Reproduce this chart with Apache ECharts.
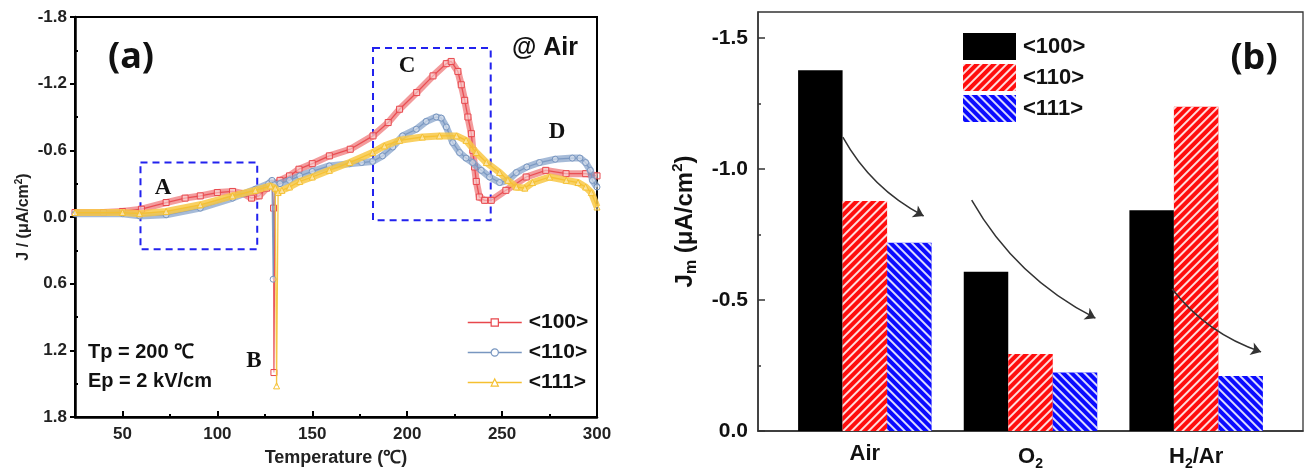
<!DOCTYPE html>
<html><head><meta charset="utf-8">
<script src="https://cdn.jsdelivr.net/npm/echarts@6/dist/echarts.min.js"></script>
<style>html,body{margin:0;padding:0;background:#fff}#c{width:1306px;height:472px}</style>
</head><body><div id="c"></div>
<script>
// ---------- Panel (a) data: [temperature (°C), J (uA/cm2)] ----------
const lineNames = ['<100>', '<110>', '<111>'];
const j100 = [[25,-0.04],[40,-0.04],[50,-0.05],[60,-0.07],[73,-0.13],[83,-0.17],[91,-0.19],[100,-0.22],[108,-0.23],[114,-0.21],[118,-0.17],[122,-0.19],[126,-0.26],[128.8,-0.30],[129.6,-0.08],[129.8,1.40],[130.4,-0.30],[133,-0.33],[138,-0.37],[143,-0.43],[150,-0.48],[159,-0.55],[170,-0.61],[182,-0.73],[190,-0.85],[196,-0.97],[205,-1.12],[213.6,-1.27],[220.6,-1.38],[223.2,-1.40],[226.7,-1.31],[228.5,-1.19],[230.3,-1.05],[232,-0.90],[233.8,-0.75],[234.6,-0.60],[235.5,-0.45],[236.4,-0.32],[238,-0.18],[240.8,-0.15],[244.3,-0.15],[252,-0.24],[262.7,-0.36],[273,-0.42],[283.7,-0.39],[294,-0.39],[300,-0.37]];
const j110 = [[25,-0.03],[50,-0.03],[59,-0.01],[73,-0.02],[91,-0.08],[108,-0.17],[120,-0.25],[127,-0.30],[128.8,-0.33],[129.4,0.56],[130,-0.29],[133,-0.30],[138,-0.33],[143.4,-0.37],[150,-0.41],[159,-0.46],[169.7,-0.48],[176,-0.49],[181.8,-0.50],[187,-0.55],[192.4,-0.63],[197.6,-0.73],[204.8,-0.79],[210,-0.86],[215.3,-0.90],[218,-0.89],[220.6,-0.81],[224,-0.67],[227.6,-0.58],[231,-0.53],[234.5,-0.49],[239,-0.42],[243.4,-0.36],[248.7,-0.31],[253,-0.33],[257.5,-0.40],[263,-0.45],[269.7,-0.49],[278,-0.52],[287,-0.53],[291,-0.53],[294,-0.49],[296.5,-0.42],[297.6,-0.33],[300,-0.27]];
const j111 = [[25,-0.04],[50,-0.04],[59,-0.03],[73,-0.05],[91,-0.11],[108,-0.19],[120,-0.24],[128,-0.28],[130.5,-0.26],[131.2,1.52],[132,-0.22],[134,-0.24],[138,-0.27],[143.4,-0.32],[150,-0.36],[159,-0.42],[169.7,-0.49],[181.8,-0.58],[188,-0.64],[196,-0.69],[208,-0.72],[217,-0.73],[226,-0.73],[231,-0.69],[236.4,-0.58],[241.7,-0.49],[248.7,-0.40],[253,-0.33],[257.5,-0.27],[262,-0.26],[266,-0.31],[275,-0.36],[283.8,-0.33],[290,-0.31],[294,-0.27],[297,-0.22],[300,-0.09]];
const tempTicks = [50, 100, 150, 200, 250, 300];
const tempMinorTicks = [75, 125, 175, 225, 275];
const jMinorTicks = [-1.5, -0.9, -0.3, 0.3, 0.9, 1.5];
// dashed boxes A and C: [[tempStart, jTop], [tempEnd, jBottom]]
const boxes = [[[59.5, -0.49], [121, 0.29]], [[182, -1.52], [244, 0.03]]];

// ---------- Panel (b) data ----------
const gasLabels = ['Air', '{b|O}{s|2}', '{b|H}{s|2}{b|/Ar}'];
const barNames = ['b100', 'b110', 'b111'];
const barLegendLabels = ['<100>', '<110>', '<111>'];
const jm100 = [-1.378, -0.608, -0.843];
const jm110 = [-0.878, -0.294, -1.238];
const jm111 = [-0.719, -0.223, -0.210];
const jmTicks = [-1.5, -1.0, -0.5, 0];
const jmMinorTicks = [-1.25, -0.75, -0.25];
// trend arrows in (b) data coordinates: [[gasPos, Jm], [gasPos, Jm]]
const arrows = [[[0.867, -1.122], [1.355, -0.821]], [[1.645, -0.882], [2.392, -0.431]], [[2.855, -0.542], [3.392, -0.302]]];

const lineColors = ['#e8474c', '#7896c0', '#f5c030'];
const bandColors = ['rgba(238,112,114,0.7)', 'rgba(128,158,200,0.7)', 'rgba(248,200,70,0.85)'];
const symbols = ['rect', 'circle', 'triangle'];
const FONT = 'Arial, "Liberation Sans", sans-serif';

const chart = echarts.init(document.getElementById('c'), null, {renderer: 'canvas'});

const lineData = [j100, j110, j111];
// wide translucent band along the smooth parts (the discharge spike near 130 °C is drawn thin only)
const bandSeries = lineNames.map((n, i) => ({
  type: 'line', name: n + ' band', data: lineData[i].filter(p => p[0] < 100 || p[0] > 200 || p[1] < -0.1),
  xAxisIndex: 0, yAxisIndex: 0, symbol: 'none', silent: true,
  lineStyle: {color: bandColors[i], width: 7}, z: 2 + i * 2
}));
const lineSeries = lineNames.map((n, i) => ({
  type: 'line', name: n, data: lineData[i], xAxisIndex: 0, yAxisIndex: 0,
  symbol: symbols[i], symbolSize: 6, showAllSymbol: true,
  lineStyle: {color: lineColors[i], width: 1.3, opacity: 0.9},
  itemStyle: {color: 'rgba(255,255,255,0.45)', borderColor: lineColors[i], borderWidth: 1},
  z: 3 + i * 2,
  markArea: i === 0 ? {
    silent: true,
    itemStyle: {color: 'rgba(0,0,0,0)', borderColor: '#2222ee', borderWidth: 2, borderType: [7, 5]},
    data: boxes.map(b => [{xAxis: b[0][0], yAxis: b[0][1]}, {xAxis: b[1][0], yAxis: b[1][1]}])
  } : undefined
}));

const barData = [jm100, jm110, jm111];
const barColors = ['#000000', '#ff0d0d', '#0a0aff'];
const decals = [
  null,
  {symbol: 'rect', symbolSize: 1, dashArrayX: [1, 0], dashArrayY: [1.5, 3.2], rotation: -Math.PI / 4, color: 'rgba(255,255,255,0.85)'},
  {symbol: 'rect', symbolSize: 1, dashArrayX: [1, 0], dashArrayY: [1.5, 3.2], rotation: Math.PI / 4, color: 'rgba(255,255,255,0.85)'}
];
const barSeries = barNames.map((n, i) => ({
  type: 'bar', name: n, xAxisIndex: 2, yAxisIndex: 2,
  data: barData[i].map((v, k) => [k + 1, v]),
  barWidth: 44.5, barGap: '0%',
  itemStyle: Object.assign({color: barColors[i]}, decals[i] ? {decal: decals[i]} : {})
}));

const option = {
  animation: false,
  backgroundColor: '#fff',
  textStyle: {fontFamily: FONT},
  grid: [
    {left: 75, top: 17, width: 522, height: 400, show: true, borderColor: '#000', borderWidth: 2, backgroundColor: 'transparent'},
    {left: 758, top: 12, width: 545, height: 419, show: true, borderColor: '#333', borderWidth: 1.3, backgroundColor: 'transparent'}
  ],
  xAxis: [
    {gridIndex: 0, type: 'value', min: 25, max: 300, position: 'bottom',
     axisLine: {show: true, onZero: false, lineStyle: {color: '#000', width: 2.5}},
     axisTick: {show: true, inside: true, length: 6, lineStyle: {color: '#000', width: 2}, customValues: tempTicks},
     axisLabel: {fontSize: 17, fontWeight: 'bold', color: '#222', margin: 9, fontFamily: FONT, customValues: tempTicks},
     splitLine: {show: false},
     name: 'Temperature (℃)', nameLocation: 'middle', nameGap: 32,
     nameTextStyle: {fontSize: 18, fontWeight: 'bold', color: '#222', fontFamily: FONT}},
    {gridIndex: 0, type: 'value', min: 25, max: 300, position: 'bottom',
     axisLine: {show: false, onZero: false}, axisLabel: {show: false}, splitLine: {show: false},
     axisTick: {show: true, inside: true, length: 3, lineStyle: {color: '#000', width: 2}, customValues: tempMinorTicks}},
    {gridIndex: 1, type: 'value', min: 0.355, max: 3.645, position: 'bottom',
     axisLine: {show: true, onZero: false, lineStyle: {color: '#333', width: 1.5}},
     axisTick: {show: false}, splitLine: {show: false},
     axisLabel: {customValues: [1, 2, 3], margin: 12, formatter: v => gasLabels[Math.round(v) - 1],
       fontSize: 22, fontWeight: 'bold', color: '#111', fontFamily: FONT,
       rich: {b: {fontSize: 22, fontWeight: 'bold', color: '#111', fontFamily: FONT},
              s: {fontSize: 14, fontWeight: 'bold', color: '#111', fontFamily: FONT, padding: [14, 0, 0, 0]}}}}
  ],
  yAxis: [
    {gridIndex: 0, type: 'value', min: -1.8, max: 1.8, interval: 0.6, inverse: true, position: 'left',
     axisLine: {show: true, onZero: false, lineStyle: {color: '#000', width: 2.5}},
     axisTick: {show: true, inside: false, length: 5, lineStyle: {color: '#000', width: 2}},
     axisLabel: {fontSize: 17, fontWeight: 'bold', color: '#222', margin: 8, fontFamily: FONT, formatter: v => v.toFixed(1)},
     splitLine: {show: false},
     name: 'J / (μA/cm{sup|2})', nameLocation: 'middle', nameGap: 42, nameRotate: 90,
     nameTextStyle: {fontSize: 16, fontWeight: 'bold', color: '#222', fontFamily: FONT,
       rich: {sup: {fontSize: 10, fontWeight: 'bold', color: '#222', fontFamily: FONT, padding: [0, 0, 9, 0]}}}},
    {gridIndex: 0, type: 'value', min: -1.8, max: 1.8, inverse: true, position: 'left',
     axisLine: {show: false, onZero: false}, axisLabel: {show: false}, splitLine: {show: false},
     axisTick: {show: true, inside: true, length: 3, lineStyle: {color: '#000', width: 2}, customValues: jMinorTicks}},
    {gridIndex: 1, type: 'value', min: -1.6, max: 0, inverse: true, position: 'left',
     axisLine: {show: true, onZero: false, lineStyle: {color: '#333', width: 1.5}},
     axisTick: {show: true, inside: true, length: 7, lineStyle: {color: '#333', width: 1.5}, customValues: jmTicks},
     axisLabel: {fontSize: 21, fontWeight: 'bold', color: '#111', margin: 10, fontFamily: FONT, customValues: jmTicks, formatter: v => v.toFixed(1)},
     splitLine: {show: false},
     name: 'J{sub|m} (μA/cm{sup|2})', nameLocation: 'middle', nameGap: 58, nameRotate: 90,
     nameTextStyle: {fontSize: 24, fontWeight: 'bold', color: '#111', fontFamily: FONT,
       rich: {sub: {fontSize: 16, fontWeight: 'bold', color: '#111', fontFamily: FONT, padding: [14, 0, 0, 0]},
              sup: {fontSize: 15, fontWeight: 'bold', color: '#111', fontFamily: FONT, padding: [0, 0, 14, 0]}}}},
    {gridIndex: 1, type: 'value', min: -1.6, max: 0, inverse: true, position: 'left',
     axisLine: {show: false, onZero: false}, axisLabel: {show: false}, splitLine: {show: false},
     axisTick: {show: true, inside: true, length: 3, lineStyle: {color: '#333', width: 1.5}, customValues: jmMinorTicks}}
  ],
  legend: [
    {orient: 'vertical', left: 467, top: 312, padding: 0, itemWidth: 54, itemHeight: 9, itemGap: 9,
     textStyle: {fontSize: 21, fontWeight: 'bold', color: '#111', fontFamily: FONT, padding: [0, 0, 0, 2]},
     data: lineNames.map((n, i) => ({name: n,
       lineStyle: {color: lineColors[i], width: 1.5, opacity: 1},
       itemStyle: {color: '#fff', borderColor: lineColors[i], borderWidth: 1.2}}))},
    {orient: 'vertical', left: 963, top: 33, padding: 0, itemWidth: 53, itemHeight: 27, itemGap: 4, icon: 'rect',
     textStyle: {fontSize: 22, fontWeight: 'bold', color: '#111', fontFamily: FONT, padding: [0, 0, 0, 2]},
     formatter: name => barLegendLabels[barNames.indexOf(name)],
     data: barNames}
  ],
  series: bandSeries.concat(lineSeries).concat(barSeries).concat([{
    type: 'lines', coordinateSystem: 'cartesian2d', xAxisIndex: 2, yAxisIndex: 2, silent: true, z: 6,
    symbol: ['none', 'arrow'], symbolSize: 10,
    lineStyle: {color: '#333', width: 1.5, curveness: -0.15, opacity: 1},
    data: arrows.map(a => ({coords: a}))
  }]),
  graphic: [
    {type: 'text', x: 131, y: 58, style: {text: '(a)', font: 'bold 36px "Noto Sans", Arial, sans-serif', fill: '#111', align: 'center', verticalAlign: 'middle'}},
    {type: 'text', x: 545, y: 48, style: {text: '@ Air', font: 'bold 25px Arial, "Liberation Sans", sans-serif', fill: '#111', align: 'center', verticalAlign: 'middle'}},
    {type: 'text', x: 88, y: 352, style: {text: 'Tp = 200 ℃', font: 'bold 20px Arial, "Liberation Sans", sans-serif', fill: '#111', align: 'left', verticalAlign: 'middle'}},
    {type: 'text', x: 88, y: 381, style: {text: 'Ep = 2 kV/cm', font: 'bold 20px Arial, "Liberation Sans", sans-serif', fill: '#111', align: 'left', verticalAlign: 'middle'}},
    {type: 'text', x: 163, y: 188, style: {text: 'A', font: 'bold 23px "Liberation Serif", "Times New Roman", serif', fill: '#111', align: 'center', verticalAlign: 'middle'}},
    {type: 'text', x: 254, y: 361, style: {text: 'B', font: 'bold 23px "Liberation Serif", "Times New Roman", serif', fill: '#111', align: 'center', verticalAlign: 'middle'}},
    {type: 'text', x: 407, y: 66, style: {text: 'C', font: 'bold 23px "Liberation Serif", "Times New Roman", serif', fill: '#111', align: 'center', verticalAlign: 'middle'}},
    {type: 'text', x: 557, y: 132, style: {text: 'D', font: 'bold 23px "Liberation Serif", "Times New Roman", serif', fill: '#111', align: 'center', verticalAlign: 'middle'}},
    {type: 'text', x: 1254, y: 59, style: {text: '(b)', font: 'bold 36px "Noto Sans", Arial, sans-serif', fill: '#111', align: 'center', verticalAlign: 'middle'}}
  ]
};
chart.setOption(option);
</script>
</body></html>
